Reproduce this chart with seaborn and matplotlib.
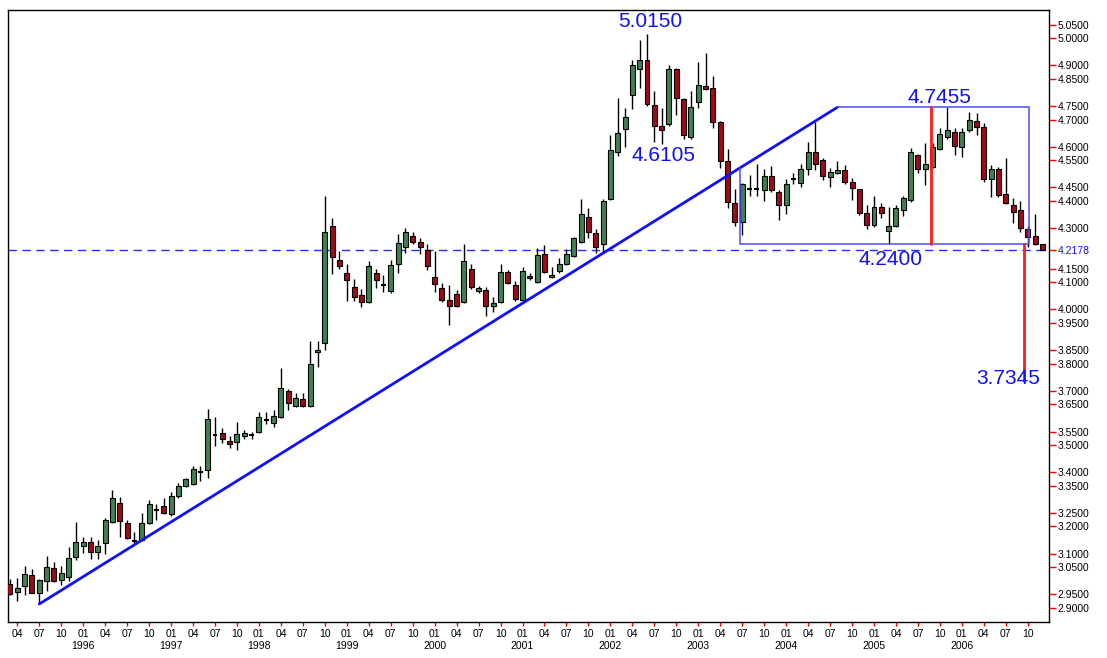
import numpy as np
import pandas as pd
import seaborn as sns
import matplotlib.pyplot as plt

# monthly OHLC, 1995-03 .. 2006-12
opens = [
    2.988, 2.959, 2.980, 3.021, 2.956, 3.000, 3.047, 3.003, 3.015, 3.086,
    3.128, 3.141, 3.104, 3.138, 3.218, 3.285, 3.214, 3.146, 3.150, 3.213, 3.262, 3.277,
    3.246, 3.313, 3.350, 3.355, 3.401, 3.408, 3.537, 3.543, 3.515, 3.510, 3.533, 3.537,
    3.549, 3.593, 3.582, 3.602, 3.700, 3.645, 3.670, 3.645, 3.842, 3.875, 4.309, 4.182,
    4.133, 4.084, 4.053, 4.029, 4.133, 4.089, 4.068, 4.168, 4.229, 4.272, 4.248, 4.219,
    4.121, 4.078, 4.035, 4.057, 4.029, 4.148, 4.069, 4.072, 4.013, 4.026, 4.139, 4.090,
    4.035, 4.123, 4.102, 4.203, 4.119, 4.142, 4.168, 4.197, 4.248, 4.340, 4.281, 4.241,
    4.406, 4.582, 4.664, 4.791, 4.887, 4.920, 4.754, 4.677, 4.684, 4.886, 4.776, 4.635,
    4.766, 4.824, 4.816, 4.692, 4.546, 4.393, 4.322, 4.444, 4.444, 4.441, 4.492, 4.434,
    4.385, 4.481, 4.467, 4.518, 4.580, 4.551, 4.490, 4.504, 4.514, 4.471, 4.444, 4.355,
    4.311, 4.379, 4.290, 4.308, 4.367, 4.404, 4.570, 4.518, 4.524, 4.591, 4.635, 4.655,
    4.600, 4.662, 4.695, 4.674, 4.480, 4.518, 4.426, 4.385, 4.365, 4.297, 4.272, 4.240,
]
highs = [
    3.005, 3.009, 3.054, 3.042, 3.005, 3.091, 3.069, 3.054, 3.123, 3.216,
    3.162, 3.162, 3.150, 3.231, 3.334, 3.310, 3.224, 3.180, 3.250, 3.297, 3.282, 3.304,
    3.328, 3.361, 3.380, 3.423, 3.423, 3.632, 3.605, 3.564, 3.533, 3.584, 3.555, 3.549,
    3.621, 3.621, 3.629, 3.783, 3.707, 3.691, 3.691, 3.884, 3.884, 4.420, 4.339, 4.217,
    4.168, 4.111, 4.077, 4.178, 4.148, 4.126, 4.182, 4.278, 4.299, 4.285, 4.262, 4.241,
    4.216, 4.096, 4.090, 4.072, 4.241, 4.168, 4.088, 4.082, 4.047, 4.168, 4.145, 4.106,
    4.158, 4.133, 4.226, 4.238, 4.156, 4.189, 4.222, 4.269, 4.406, 4.373, 4.296, 4.406,
    4.644, 4.781, 4.742, 4.920, 4.994, 5.015, 4.807, 4.742, 4.901, 4.889, 4.781, 4.807,
    4.911, 4.947, 4.861, 4.695, 4.591, 4.443, 4.466, 4.496, 4.536, 4.518, 4.529, 4.441,
    4.480, 4.502, 4.535, 4.616, 4.692, 4.557, 4.520, 4.549, 4.533, 4.484, 4.446, 4.385,
    4.418, 4.391, 4.379, 4.385, 4.418, 4.594, 4.573, 4.615, 4.613, 4.668, 4.7455, 4.670,
    4.670, 4.729, 4.726, 4.686, 4.533, 4.526, 4.560, 4.411, 4.401, 4.308, 4.352, 4.240,
]
lows = [
    2.947, 2.926, 2.946, 2.956, 2.917, 2.963, 2.995, 2.983, 3.000, 3.076,
    3.103, 3.080, 3.080, 3.098, 3.213, 3.160, 3.155, 3.138, 3.146, 3.210, 3.224, 3.246,
    3.239, 3.304, 3.346, 3.353, 3.368, 3.377, 3.498, 3.506, 3.488, 3.482, 3.521, 3.521,
    3.546, 3.578, 3.568, 3.599, 3.629, 3.641, 3.641, 3.641, 3.789, 3.851, 4.130, 4.148,
    4.032, 4.032, 4.008, 4.025, 4.080, 4.066, 4.060, 4.133, 4.209, 4.241, 4.203, 4.145,
    4.066, 4.026, 3.943, 4.010, 4.023, 4.075, 4.062, 3.977, 3.992, 4.023, 4.093, 4.032,
    4.029, 4.109, 4.099, 4.136, 4.115, 4.136, 4.164, 4.195, 4.244, 4.265, 4.207, 4.207,
    4.404, 4.566, 4.600, 4.738, 4.816, 4.750, 4.619, 4.6105, 4.677, 4.717, 4.627, 4.627,
    4.742, 4.809, 4.668, 4.520, 4.373, 4.306, 4.275, 4.418, 4.418, 4.401, 4.434, 4.330,
    4.352, 4.463, 4.453, 4.496, 4.514, 4.477, 4.453, 4.500, 4.463, 4.404, 4.348, 4.296,
    4.305, 4.336, 4.240, 4.303, 4.345, 4.397, 4.502, 4.459, 4.520, 4.588, 4.627, 4.570,
    4.563, 4.655, 4.643, 4.471, 4.416, 4.413, 4.389, 4.319, 4.287, 4.230, 4.238, 4.2178,
]
closes = [
    2.950, 2.972, 3.025, 2.956, 3.001, 3.052, 3.000, 3.027, 3.083, 3.141,
    3.141, 3.107, 3.127, 3.224, 3.304, 3.221, 3.157, 3.146, 3.214, 3.282, 3.262, 3.250,
    3.312, 3.349, 3.375, 3.411, 3.401, 3.596, 3.537, 3.521, 3.503, 3.540, 3.543, 3.537,
    3.602, 3.593, 3.608, 3.709, 3.656, 3.672, 3.645, 3.799, 3.851, 4.285, 4.195, 4.161,
    4.109, 4.047, 4.029, 4.160, 4.109, 4.089, 4.164, 4.244, 4.285, 4.250, 4.232, 4.160,
    4.093, 4.035, 4.014, 4.013, 4.180, 4.084, 4.080, 4.014, 4.025, 4.139, 4.096, 4.037,
    4.143, 4.115, 4.201, 4.139, 4.127, 4.168, 4.203, 4.265, 4.352, 4.285, 4.232, 4.401,
    4.588, 4.650, 4.711, 4.901, 4.920, 4.757, 4.677, 4.662, 4.886, 4.781, 4.643, 4.746,
    4.828, 4.813, 4.692, 4.546, 4.397, 4.322, 4.463, 4.444, 4.444, 4.492, 4.441, 4.385,
    4.463, 4.481, 4.518, 4.580, 4.536, 4.492, 4.508, 4.514, 4.471, 4.449, 4.355, 4.311,
    4.377, 4.357, 4.308, 4.373, 4.410, 4.582, 4.517, 4.536, 4.598, 4.646, 4.662, 4.603,
    4.655, 4.699, 4.674, 4.480, 4.518, 4.422, 4.394, 4.359, 4.302, 4.267, 4.240, 4.2178,
]

y_ticks = [5.05, 5.00, 4.90, 4.85, 4.75, 4.70, 4.60, 4.55, 4.45, 4.40, 4.30, 4.2178,
           4.15, 4.10, 4.00, 3.95, 3.85, 3.80, 3.70, 3.65, 3.55, 3.50, 3.40, 3.35,
           3.25, 3.20, 3.10, 3.05, 2.95, 2.90]

last_close = 4.2178
range_top = 4.7455
range_bottom = 4.2400
target = 3.7345
peak = 5.0150
dip = 4.6105
trend_start, trend_start_level = "1995-07", 2.914
trend_end = "2004-08"
box_start, box_end = "2003-07", "2006-10"
measure_1, measure_2 = "2005-09", "2006-09"

months = pd.period_range("1995-03", "2006-12", freq="M")
df = pd.DataFrame({"month": months, "open": opens, "high": highs,
                   "low": lows, "close": closes})
df["i"] = np.arange(len(df))
pos = {str(m): i for i, m in enumerate(months)}

sns.set_theme(style="white")
plt.rcParams["font.family"] = ["Liberation Sans", "DejaVu Sans"]

W, H = 1107, 658
fig = plt.figure(figsize=(W / 100, H / 100), dpi=100)
fig.patch.set_facecolor("white")
ax = fig.add_axes([8 / W, 1 - 622 / H, (1049 - 8) / W, (622 - 10) / H])
ax.set_facecolor("white")

green, red = "#3f8150", "#9e0b17"
up = df["close"] > df["open"]
down = df["close"] < df["open"]
doji = df["close"] == df["open"]

ax.vlines(df["i"], df["low"], df["high"], color="black", lw=1, zorder=2)
body_lo = np.minimum(df["open"], df["close"])
body_h = (df["close"] - df["open"]).abs()
ax.bar(df["i"][up], body_h[up], bottom=body_lo[up], width=0.68,
       color=green, edgecolor="black", linewidth=0.8, zorder=3)
ax.bar(df["i"][down], body_h[down], bottom=body_lo[down], width=0.68,
       color=red, edgecolor="black", linewidth=0.8, zorder=3)
ax.hlines(df["close"][doji], df["i"][doji] - 0.34, df["i"][doji] + 0.34,
          color="black", lw=1.5, zorder=3)

# guide lines
ax.axhline(last_close, color="#2a2aff", lw=1, ls=(0, (6, 4)), zorder=1)

t0, t1 = pos[trend_start], pos[trend_end]
ax.plot([t0, t1], [trend_start_level, range_top], color="#1010ff", lw=2, zorder=4)

b0, b1 = pos[box_start] - 0.3, pos[box_end] + 0.2
left_top = np.interp(b0, [t0, t1], [trend_start_level, range_top])
ax.plot([t1, b1, b1, b0, b0], [range_top, range_top, range_bottom, range_bottom, left_top],
        color="#4a4aff", lw=1.1, zorder=4)

ax.plot([pos[measure_1] - 0.2] * 2, [range_bottom, range_top], color="#ff1a1a", lw=2, zorder=5)
ax.plot([pos[measure_2] + 0.5] * 2, [target, range_bottom], color="#ff1a1a", lw=2, zorder=5)

txt = dict(color="#0f0fff", fontsize=15, ha="center", va="center", zorder=6)
ax.text(pos["2002-06"] + 0.4, 5.060, f"{peak:.4f}", **txt)
ax.text(pos["2002-08"] + 0.2, 4.566, f"{dip:.4f}", **txt)
ax.text(pos["2005-10"], 4.783, f"{range_top:.4f}", **txt)
ax.text(pos["2005-03"] + 0.2, 4.186, f"{range_bottom:.4f}", **txt)
ax.text(pos["2006-09"] - 1.7, 3.744, f"{target:.4f}", **txt)

# axes
ax.set_xlim(-0.27, 141.9)
ax.set_ylim(2.8476, 5.1042)

ax.yaxis.tick_right()
ax.set_yticks(y_ticks)
ax.set_yticklabels([f"{v:.4f}" for v in y_ticks])
ax.tick_params(axis="y", which="major", right=True, left=False, direction="out",
               length=5, width=1, colors="red", labelcolor="black",
               labelsize=7.5, pad=1)
for lab, v in zip(ax.get_yticklabels(), y_ticks):
    if v == last_close:
        lab.set_color("#1010ff")

x_ticks = list(range(pos["1995-04"], pos["2006-10"] + 1, 3))
x_labels = []
for i in x_ticks:
    m = months[i]
    x_labels.append(f"{m.month:02d}\n{m.year}" if m.month == 1 else f"{m.month:02d}")
ax.set_xticks(x_ticks)
ax.set_xticklabels(x_labels, linespacing=1.2)
ax.tick_params(axis="x", which="major", bottom=True, direction="out", length=3,
               width=1, colors="red", labelcolor="black", labelsize=7.5, pad=2)

for s in ax.spines.values():
    s.set_color("black")
    s.set_linewidth(1)
ax.grid(False)

fig.savefig("out.png", dpi=100, facecolor="white")
